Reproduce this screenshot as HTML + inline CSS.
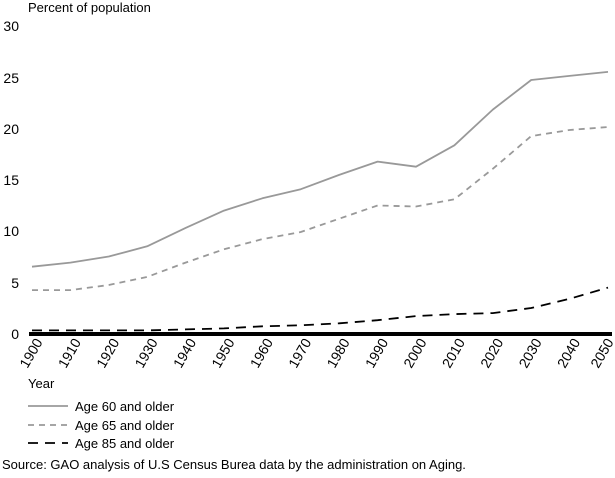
<!DOCTYPE html>
<html><head><style>
body{margin:0;background:#fff;width:615px;height:473px;overflow:hidden;font-family:"Liberation Sans",Arial,sans-serif}
</style></head><body>
<svg width="615" height="473" xmlns="http://www.w3.org/2000/svg" font-family="Liberation Sans, Arial, sans-serif" font-size="13">
<text x="28" y="12" font-size="13">Percent of population</text>
<g text-anchor="end" font-size="14">
<text x="19" y="31">30</text><text x="19" y="83">25</text><text x="19" y="134">20</text>
<text x="19" y="185">15</text><text x="19" y="236">10</text><text x="19" y="288">5</text><text x="19" y="339">0</text>
</g>
<line x1="29" y1="334" x2="612" y2="334" stroke="#000" stroke-width="4"/>
<g transform="translate(0,3)">
<polyline fill="none" stroke="#999" stroke-width="1.8" stroke-linejoin="round" points="32,263.7 70.4,259.6 108.8,253.5 147.2,243.3 185.6,224.9 224,207.6 262.4,195.3 300.8,186.2 339.2,171.9 377.6,158.6 416,163.7 454.4,142.3 492.8,106.6 531.2,77 569.6,72.9 608,68.9"/>
<polyline fill="none" stroke="#999" stroke-width="1.8" stroke-dasharray="6,5" points="32,287.1 70.4,287.1 108.8,282 147.2,273.9 185.6,259.6 224,246.3 262.4,236.1 300.8,229 339.2,215.7 377.6,202.5 416,203.5 454.4,196.3 492.8,165.8 531.2,133.1 569.6,127 608,124"/>
<polyline fill="none" stroke="#000" stroke-width="1.8" stroke-dasharray="10,7" points="32,327.4 70.4,327.4 108.8,327.4 147.2,327.4 185.6,326.4 224,325.4 262.4,323.3 300.8,322.3 339.2,320.3 377.6,317.2 416,313.1 454.4,311.1 492.8,310.1 531.2,305 569.6,295.8 608,284.6"/>
</g>
<text x="28" y="388" font-size="13">Year</text>
<line x1="28" y1="406" x2="68" y2="406" stroke="#999" stroke-width="1.8"/>
<text x="75" y="411" font-size="13">Age 60 and older</text>
<line x1="28" y1="425" x2="68" y2="425" stroke="#999" stroke-width="1.8" stroke-dasharray="6,5"/>
<text x="75" y="430" font-size="13">Age 65 and older</text>
<line x1="28" y1="443" x2="68" y2="443" stroke="#000" stroke-width="1.8" stroke-dasharray="10,7"/>
<text x="75" y="448" font-size="13">Age 85 and older</text>
<text x="2" y="469" font-size="13">Source: GAO analysis of U.S Census Burea data by the administration on Aging.</text>
<g font-size="14" text-anchor="end">
<text transform="translate(43,342) rotate(-60)">1900</text>
<text transform="translate(81.4,342) rotate(-60)">1910</text>
<text transform="translate(119.8,342) rotate(-60)">1920</text>
<text transform="translate(158.2,342) rotate(-60)">1930</text>
<text transform="translate(196.6,342) rotate(-60)">1940</text>
<text transform="translate(235,342) rotate(-60)">1950</text>
<text transform="translate(273.4,342) rotate(-60)">1960</text>
<text transform="translate(311.8,342) rotate(-60)">1970</text>
<text transform="translate(350.2,342) rotate(-60)">1980</text>
<text transform="translate(388.6,342) rotate(-60)">1990</text>
<text transform="translate(427,342) rotate(-60)">2000</text>
<text transform="translate(465.4,342) rotate(-60)">2010</text>
<text transform="translate(503.8,342) rotate(-60)">2020</text>
<text transform="translate(542.2,342) rotate(-60)">2030</text>
<text transform="translate(580.6,342) rotate(-60)">2040</text>
<text transform="translate(614,342) rotate(-60)">2050</text>
</g>
</svg>
</body></html>
